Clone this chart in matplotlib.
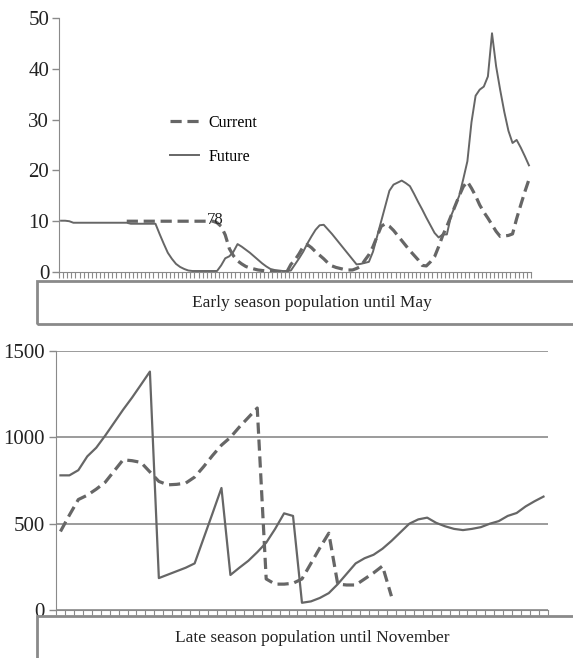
import numpy as np
import matplotlib
matplotlib.use("Agg")
import matplotlib.pyplot as plt
from matplotlib.patches import Rectangle

plt.rcParams['font.family'] = ['Liberation Serif', 'DejaVu Serif']

# early season (until May), one value per day
early_current = [np.nan] * 16 + [10.0] * 22 + [
    9.7, 9.0, 7.3, 4.6, 3.2, 2.2, 1.6, 1.1, 0.8, 0.6, 0.4, 0.3, 0.2, 0.1, 0.1, 0.0, 0.0, 0.0,
    1.5, 2.4, 3.6, 5.0, 5.4, 4.8, 4.0, 3.3, 2.6, 1.8, 1.2, 0.9, 0.7, 0.5, 0.4, 0.4, 0.7, 1.1, 2.3, 3.4,
    5.0, 7.0, 9.0, 9.5, 9.0, 8.2, 7.2, 6.2, 5.2, 4.2, 3.3, 2.4, 1.3, 1.2, 2.0, 3.0, 5.0, 7.2, 9.0,
    11.0, 13.0, 15.0, 16.8, 17.8, 16.5, 15.0, 13.2, 11.8, 10.6, 9.3, 8.0, 7.0, 7.1, 7.2, 7.5,
    10.5, 13.2, 15.8, 18.2]
early_future = [10.1, 10.1, 10.0] + [9.7] * 14 + [9.5] * 7 + [
    7.5, 5.6, 3.8, 2.6, 1.6, 1.0, 0.6, 0.3] + [0.2] * 7 + [
    1.3, 2.7, 3.1, 4.0, 5.5, 5.0, 4.4, 3.8, 3.1, 2.4, 1.7, 1.1, 0.6, 0.4, 0.3, 0.2, 0.2,
    0.3, 1.5, 2.7, 4.0, 5.6, 7.0, 8.3, 9.2, 9.3, 8.4, 7.5, 6.5, 5.5, 4.5, 3.5, 2.5, 1.5, 1.6, 1.8, 2.0,
    4.0, 7.0, 10.0, 13.0, 16.0, 17.2, 17.6, 18.0, 17.5, 16.9, 15.4, 13.8, 12.3, 10.7, 9.2, 7.7, 6.8, 7.4, 7.4,
    11.0, 13.0, 15.0, 18.3, 21.8, 29.5, 34.7, 35.9, 36.5, 38.5, 47.0, 40.5, 35.8, 31.5, 27.8, 25.4,
    26.0, 24.5, 22.8, 21.0]

# late season (until November)
late_current = [455, 550, 640, 665, 700, 740, 805, 870, 865, 855, 800, 745, 725, 728, 735,
                770, 830, 895, 955, 1000, 1060, 1115, 1170, 180, 150, 150, 155, 180, 270,
                360, 445, 150, 145, 145, 180, 215, 255, 80]
late_future = [780, 780, 810, 890, 940, 1010, 1085, 1160, 1230, 1305, 1381,
               185, 205, 225, 245, 270, 415, 560, 707, 203, 245, 285, 335, 390,
               470, 560, 545, 42, 50, 70, 98, 150, 210, 270, 300, 320,
               355, 400, 450, 500, 525, 535, 505, 485, 470, 463, 470, 480,
               500, 515, 545, 562, 600, 630, 657]

early_n = len(early_future)
late_n = len(late_future)

early_yticks = [0, 10, 20, 30, 40, 50]
late_yticks = [0, 500, 1000, 1500]

early_label = "Early season population until May"
late_label = "Late season population until November"

LINE = '#666666'
AXIS = '#8a8a8a'
DASH = (0, (3.5, 1.8))


def style_axes(ax, n, ticklen):
    ax.set_xlim(-0.5, n - 0.5)
    ax.spines['top'].set_visible(False)
    ax.spines['right'].set_visible(False)
    ax.spines['left'].set_color(AXIS)
    ax.spines['bottom'].set_color(AXIS)
    ax.set_xticks(np.arange(-0.5, n, 1))
    ax.set_xticklabels([])
    ax.tick_params(axis='x', length=ticklen, width=0.8, color=AXIS, direction='out')
    ax.tick_params(axis='y', length=5, width=1, color=AXIS, pad=2, labelcolor='#222222')


def label_box(fig, y0, h, text, ty, size):
    fig.add_artist(Rectangle((0.065, y0), 1.0, h, transform=fig.transFigure,
                             fill=False, ec=AXIS, lw=2))
    fig.text(0.545, ty, text, ha='center', va='center', fontsize=size, color='#222222')


def main():
    fig = plt.figure(figsize=(5.73, 6.58), dpi=100)

    # early season panel
    ax1 = fig.add_axes([0.1030, 0.5866, 0.8237, 0.3860])
    x1 = np.arange(early_n)
    ax1.plot(x1, early_current, color=LINE, lw=2.3, linestyle=DASH, label='Current')
    ax1.plot(x1, early_future, color=LINE, lw=1.4, label='Future')
    ax1.set_ylim(0, 50)
    ax1.set_yticks(early_yticks)
    ax1.set_yticklabels([str(v) for v in early_yticks], fontsize=15)
    style_axes(ax1, early_n, 4.3)
    ax1.text(37.5, 10.3, "78", ha='center', va='center', fontsize=12, color='#222222')
    ax1.legend(loc='upper left', bbox_to_anchor=(0.235, 0.62), frameon=False,
               fontsize=11.5, handlelength=1.8, handletextpad=0.6,
               labelspacing=1.15, borderpad=0, borderaxespad=0)

    # late season panel
    ax2 = fig.add_axes([0.0977, 0.0729, 0.8586, 0.3936])
    x2 = np.arange(late_n)
    ax2.plot(np.arange(len(late_current)), late_current, color=LINE, lw=2.3, linestyle=DASH)
    ax2.plot(x2, late_future, color=LINE, lw=1.6)
    ax2.set_ylim(0, 1500)
    ax2.set_yticks(late_yticks)
    ax2.set_yticklabels([str(v) for v in late_yticks], fontsize=15)
    ax2.yaxis.grid(True, color=AXIS, lw=1.2)
    ax2.set_axisbelow(True)
    style_axes(ax2, late_n, 3.6)
    ax2.tick_params(axis='y', pad=3)

    label_box(fig, 0.5076, 0.0653, early_label, 0.540, 12.5)
    label_box(fig, -0.05, 0.1138, late_label, 0.030, 12.5)

    fig.savefig("out.png", dpi=100)


if __name__ == "__main__":
    main()
